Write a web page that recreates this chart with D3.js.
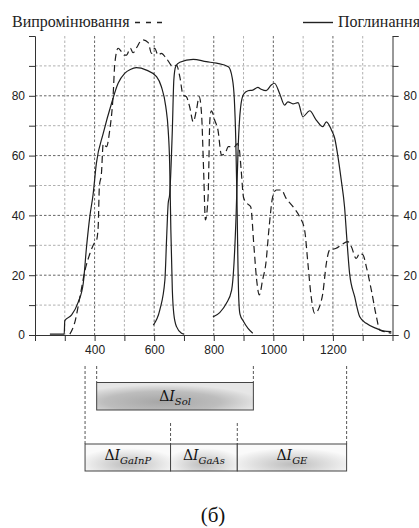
<!DOCTYPE html>
<html>
<head>
<meta charset="utf-8">
<script src="https://cdn.jsdelivr.net/npm/d3@7"></script>
<style>
body { margin: 0; background: #fff; }
</style>
</head>
<body>
<div id="chart"></div>
<script>
// wavelength (nm) and value (%)

// Випромінювання (dashed)
const emisWl = [317, 334, 351, 368, 385, 400, 406, 412, 416, 423, 429, 440, 451, 462, 468, 479, 490, 500, 507, 520, 529, 543, 552, 563, 580, 591, 602, 613, 624, 641, 664, 675, 686, 697, 708, 719, 731, 742, 751, 759, 766, 772, 781, 787, 792, 803, 814, 826, 838, 849, 870, 879, 886, 892, 900, 912, 924, 935, 944, 953, 964, 975, 986, 998, 1010, 1027, 1043, 1066, 1088, 1105, 1116, 1127, 1139, 1155, 1166, 1178, 1189, 1211, 1228, 1250, 1262, 1278, 1290, 1301, 1312, 1329, 1346, 1357, 1374, 1396]
const emisVal = [0.3, 4.4, 12.8, 21.7, 27.4, 30.9, 31.5, 36, 49.6, 54, 64, 63, 68.6, 79.7, 90.9, 95.9, 94.8, 93.6, 93.6, 95.9, 94.4, 96.4, 98, 98.7, 97.8, 94.2, 95.9, 93.6, 94.2, 92.5, 89.7, 90.3, 86.4, 80.3, 79.7, 76.4, 71.3, 75.3, 79.7, 74, 55, 38.5, 46.3, 72, 75, 71.9, 68.6, 60.2, 60.7, 63, 63, 64, 62, 55.2, 46, 44, 42.9, 29.5, 18.4, 13.4, 18.4, 24, 36.2, 46.3, 48.5, 48.5, 45.7, 42.9, 39.6, 35.1, 24, 12.8, 7.2, 9.5, 13.9, 24, 28.4, 29, 30.1, 31.2, 29.5, 25.6, 27.3, 26.8, 22.9, 15, 6.1, 1.7, 1.1, 0.6]

// Поглинання, GaInP cell (solid)
const absGaInPWl = [250, 298, 300, 323, 345, 362, 373, 384, 395, 406, 429, 457, 479, 501, 520, 540, 574, 608, 624, 639, 647, 652, 656, 661, 666, 675, 692, 700]
const absGaInPVal = [0.3, 0.3, 4.8, 6.7, 11, 17.3, 29.5, 39.6, 47, 57.4, 67.4, 77.5, 84.2, 87.5, 88.8, 89.4, 88.6, 86.4, 83.1, 76.4, 68.6, 57.4, 35.1, 15, 7, 2.8, 0.6, 0.3]

// Поглинання, GaAs cell (solid)
const absGaAsWl = [597, 619, 636, 642, 647, 652, 661, 666, 672, 686, 731, 775, 809, 849, 862, 869, 874, 878, 881, 884, 888, 900, 915, 931]
const absGaAsVal = [3.3, 8.4, 18.4, 32.9, 44, 47, 68.6, 85.3, 89.7, 91.2, 92.2, 91.4, 90.9, 89.7, 86, 79, 65, 45, 25, 12, 7, 4.5, 2.2, 0.6]

// Поглинання, Ge cell (solid)
const absGeWl = [797, 820, 842, 860, 868, 875, 882, 890, 900, 915, 931, 948, 959, 976, 993, 1004, 1021, 1038, 1049, 1066, 1083, 1099, 1122, 1144, 1166, 1178, 1195, 1206, 1217, 1228, 1239, 1247, 1256, 1273, 1290, 1312, 1346, 1368, 1396]
const absGeVal = [6, 7.5, 10.5, 15, 24, 40, 63, 76, 80.5, 81.7, 81.9, 82.8, 82.2, 81.7, 83.6, 84.2, 80.8, 76.9, 78, 77.3, 77.7, 73, 75, 71.9, 69.7, 71.3, 68.6, 65.8, 59.6, 51.8, 42.9, 31.8, 20.6, 12.8, 6.1, 3.9, 2.2, 1.4, 1.1]

const xTicks = [200, 300, 400, 500, 600, 700, 800, 900, 1000, 1100, 1200, 1300, 1400]
const xLabels = [400, 600, 800, 1000, 1200]
const yTicks = [0, 10, 20, 30, 40, 50, 60, 70, 80, 90, 100]
const yLabels = [0, 20, 40, 60, 80]

// band edges under the chart, nm
const solBand = [407, 933]
const cellEdges = [368, 655, 879, 1246]
const cellNames = ["GaInP", "GaAs", "GE"]

const W = 419, H = 528

function init() {
    let svg = d3.select("#chart")
        .append("svg")
        .attr("width", W)
        .attr("height", H)
        .style("font-family", "'Liberation Sans', Arial, sans-serif")

    let x = d3.scaleLinear().domain([200, 1400]).range([35, 392.5])
    let y = d3.scaleLinear().domain([0, 100]).range([335, 36])

    let defs = svg.append("defs")
    let gs = defs.append("radialGradient").attr("id", "gSol")
        .attr("cx", "0.42").attr("cy", "0.7").attr("r", "0.62")
    gs.append("stop").attr("offset", "0").attr("stop-color", "#a6a6a6")
    gs.append("stop").attr("offset", "0.6").attr("stop-color", "#bdbdbd")
    gs.append("stop").attr("offset", "1").attr("stop-color", "#e6e6e6")
    let gc = defs.append("radialGradient").attr("id", "gCell")
        .attr("cx", "0.5").attr("cy", "0.75").attr("r", "0.6")
    gc.append("stop").attr("offset", "0").attr("stop-color", "#bdbdbd")
    gc.append("stop").attr("offset", "1").attr("stop-color", "#fafafa")

    // grid
    let grid = svg.append("g")
    grid.selectAll("line.vg")
        .data(xTicks.slice(1, -1))
        .enter()
        .append("line")
        .attr("x1", d => x(d)).attr("x2", d => x(d))
        .attr("y1", y(100)).attr("y2", y(0))
        .attr("stroke", d => xLabels.includes(d) ? "#666" : "#b0b0b0")
        .attr("stroke-dasharray", "2.5,2")
        .attr("stroke-width", 1)
    grid.selectAll("line.hg")
        .data(yTicks.slice(1, -1))
        .enter()
        .append("line")
        .attr("x1", x(200)).attr("x2", x(1400))
        .attr("y1", d => y(d)).attr("y2", d => y(d))
        .attr("stroke", d => yLabels.includes(d) ? "#666" : "#b0b0b0")
        .attr("stroke-dasharray", "2.5,2")
        .attr("stroke-width", 1)

    // axes
    let fmtY = d => yLabels.includes(d) ? d : ""
    let fmtX = d => xLabels.includes(d) ? d : ""
    let ax = [
        svg.append("g").attr("transform", `translate(${x(200)},0)`)
            .call(d3.axisLeft(y).tickValues(yTicks).tickSize(6).tickPadding(4).tickFormat(fmtY)),
        svg.append("g").attr("transform", `translate(${x(1400)},0)`)
            .call(d3.axisRight(y).tickValues(yTicks).tickSize(6).tickPadding(5).tickFormat(fmtY)),
        svg.append("g").attr("transform", `translate(0,${y(0)})`)
            .call(d3.axisBottom(x).tickValues(xTicks).tickSize(6).tickSizeOuter(0).tickPadding(4).tickFormat(fmtX))
    ]
    ax.forEach(a => {
        a.selectAll("path,line").attr("stroke", "#333")
        a.selectAll("text").attr("fill", "#222")
            .style("font-size", "12px")
            .style("font-family", "'Liberation Sans', Arial, sans-serif")
    })

    // curves
    let line = d3.line().x(d => x(d[0])).y(d => y(d[1])).curve(d3.curveMonotoneX)
    let series = [
        { wl: emisWl, v: emisVal, dash: "7,4" },
        { wl: absGaInPWl, v: absGaInPVal, dash: null },
        { wl: absGaAsWl, v: absGaAsVal, dash: null },
        { wl: absGeWl, v: absGeVal, dash: null }
    ]
    svg.selectAll("path.curve")
        .data(series)
        .enter()
        .append("path")
        .attr("d", s => line(s.wl.map((w, i) => [w, s.v[i]])))
        .attr("fill", "none")
        .attr("stroke", "#1e1e1e")
        .attr("stroke-width", 1.2)
        .attr("stroke-dasharray", s => s.dash)
        .classed("curve", true)

    // legend
    svg.append("text").attr("x", 12).attr("y", 27)
        .style("font-family", "'Liberation Serif', 'Times New Roman', serif")
        .style("font-size", "16px")
        .attr("fill", "#222")
        .text("Випромінювання")
    svg.append("line").attr("x1", 135).attr("x2", 166).attr("y1", 22.5).attr("y2", 22.5)
        .attr("stroke", "#222").attr("stroke-width", 1.4).attr("stroke-dasharray", "5,6")
    svg.append("line").attr("x1", 303).attr("x2", 333).attr("y1", 22.5).attr("y2", 22.5)
        .attr("stroke", "#222").attr("stroke-width", 1.4)
    svg.append("text").attr("x", 338).attr("y", 27)
        .style("font-family", "'Liberation Serif', 'Times New Roman', serif")
        .style("font-size", "16px")
        .attr("fill", "#222")
        .text("Поглинання")

    // band diagram below
    let solTop = 382.5, solBot = 410, cellTop = 444, cellBot = 471
    let guide = (xv, y1, y2) => svg.append("line")
        .attr("x1", x(xv)).attr("x2", x(xv)).attr("y1", y1).attr("y2", y2)
        .attr("stroke", "#444").attr("stroke-width", 0.9).attr("stroke-dasharray", "3,2")
    solBand.forEach(d => guide(d, 366, solTop))
    guide(cellEdges[0], 366, cellTop)
    guide(cellEdges[3], 366, cellTop)
    guide(cellEdges[1], 423, cellTop)
    guide(cellEdges[2], 423, cellTop)

    svg.append("rect")
        .attr("x", x(solBand[0])).attr("y", solTop)
        .attr("width", x(solBand[1]) - x(solBand[0])).attr("height", solBot - solTop)
        .attr("fill", "url(#gSol)").attr("stroke", "#444").attr("stroke-width", 1)

    let cells = cellNames.map((n, i) => ({ name: n, a: cellEdges[i], b: cellEdges[i + 1] }))
    svg.selectAll("rect.cell")
        .data(cells)
        .enter()
        .append("rect")
        .attr("x", d => x(d.a)).attr("y", cellTop)
        .attr("width", d => x(d.b) - x(d.a)).attr("height", cellBot - cellTop)
        .attr("fill", "url(#gCell)").attr("stroke", "#444").attr("stroke-width", 1)
        .classed("cell", true)

    let label = (cx, by, sub) => {
        let t = svg.append("text").attr("x", cx).attr("y", by)
            .attr("text-anchor", "middle")
            .style("font-family", "'DejaVu Serif', serif")
            .style("font-size", "14px")
            .attr("fill", "#111")
        t.append("tspan").text("Δ")
        t.append("tspan").style("font-style", "italic").text("I")
        t.append("tspan").attr("dy", 4).style("font-style", "italic").style("font-size", "10px").text(sub)
    }
    label((x(solBand[0]) + x(solBand[1])) / 2, 401, "Sol")
    cells.forEach(d => label((x(d.a) + x(d.b)) / 2, 460, d.name))

    svg.append("text").attr("x", 213).attr("y", 522)
        .attr("text-anchor", "middle")
        .style("font-family", "'Liberation Serif', 'Times New Roman', serif")
        .style("font-size", "21px")
        .attr("fill", "#111")
        .text("(б)")
}

window.onload = init;
</script>
</body>
</html>
